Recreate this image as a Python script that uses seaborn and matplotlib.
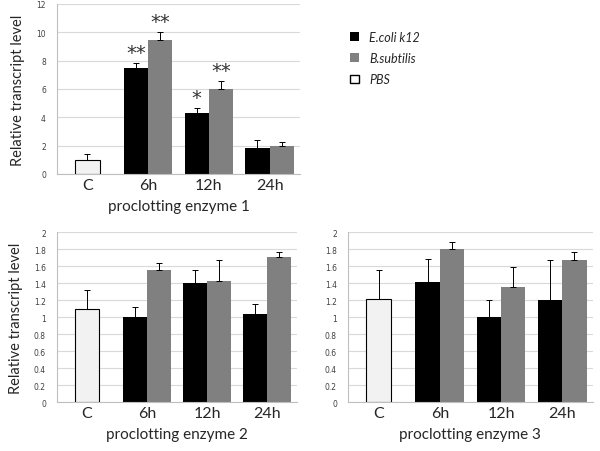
"""
Relative transcript levels of three proclotting enzymes after
bacterial challenge, drawn as grouped bar charts with seaborn.
"""

import pandas as pd
import seaborn as sns
import matplotlib.pyplot as plt
from matplotlib.patches import Patch
from matplotlib.ticker import FuncFormatter


times = ['C', '6h', '12h', '24h']
treated_times = ['6h', '12h', '24h']
strains = ['E.coli k12', 'B.subtilis']

# proclotting enzyme 1
e1_ecoli = [7.45, 4.3, 1.8]
e1_ecoli_err = [0.38, 0.35, 0.6]
e1_bsub = [9.45, 6.0, 1.97]
e1_bsub_err = [0.6, 0.55, 0.25]
e1_pbs = 1.0
e1_pbs_err = 0.4
e1_ecoli_stars = ['**', '*', '']
e1_bsub_stars = ['**', '**', '']

# proclotting enzyme 2
e2_ecoli = [1.0, 1.4, 1.04]
e2_ecoli_err = [0.12, 0.15, 0.12]
e2_bsub = [1.56, 1.43, 1.71]
e2_bsub_err = [0.075, 0.24, 0.06]
e2_pbs = 1.1
e2_pbs_err = 0.22

# proclotting enzyme 3
e3_ecoli = [1.41, 1.0, 1.2]
e3_ecoli_err = [0.28, 0.2, 0.47]
e3_bsub = [1.8, 1.36, 1.67]
e3_bsub_err = [0.09, 0.23, 0.1]
e3_pbs = 1.22
e3_pbs_err = 0.34

COLORS = {'E.coli k12': '#000000', 'B.subtilis': '#808080'}
PBS_COLOR = '#f2f2f2'
FONT = 'Lato'


def make_frame(ecoli, bsub):
    """
    Returns a long dataframe of the treated samples for one enzyme
    """
    rows = []
    for strain, values in zip(strains, [ecoli, bsub]):
        for t, v in zip(treated_times, values):
            rows.append({'Time': t, 'Strain': strain, 'Level': v})
    return pd.DataFrame(rows)


def draw_panel(ax, ecoli, ecoli_err, bsub, bsub_err, pbs, pbs_err,
               ymax, step, title, ylabel=True, stars=None):
    """
    Draws one enzyme panel: the PBS control bar, the two strains side by
    side with upward error bars and optional significance stars.
    """
    control = pd.DataFrame({'Time': ['C'], 'Level': [pbs]})
    sns.barplot(data=control, x='Time', y='Level', order=times,
                color=PBS_COLOR, edgecolor='black', linewidth=0.8,
                width=0.4, saturation=1, ax=ax)
    sns.barplot(data=make_frame(ecoli, bsub), x='Time', y='Level',
                hue='Strain', order=times, hue_order=strains,
                palette=COLORS, saturation=1, linewidth=0, width=0.8,
                ax=ax, legend=False)

    errors = {'PBS': {0: pbs_err},
              strains[0]: dict(zip([1, 2, 3], ecoli_err)),
              strains[1]: dict(zip([1, 2, 3], bsub_err))}
    labels = {strains[0]: stars[0] if stars else ['', '', ''],
              strains[1]: stars[1] if stars else ['', '', '']}
    names = ['PBS'] + strains
    for name, container in zip(names, ax.containers):
        for bar in container:
            h = bar.get_height()
            if pd.isna(h) or h == 0:
                continue
            xc = bar.get_x() + bar.get_width() / 2
            idx = int(round(xc))
            err = errors[name].get(idx, 0)
            ax.errorbar(xc, h, yerr=[[0], [err]], fmt='none',
                        ecolor='black', elinewidth=0.7, capsize=2,
                        capthick=0.7, zorder=3)
            if name != 'PBS':
                star = labels[name][idx - 1]
                if star:
                    ax.text(xc, h + err + ymax * 0.005, star,
                            ha='center', va='bottom', fontsize=14,
                            color='#333333', family='DejaVu Sans')

    ax.set_xlim(-0.5, 3.5)
    ax.set_ylim(0, ymax)
    n = int(round(ymax / step))
    ax.set_yticks([i * step for i in range(n + 1)])
    ax.yaxis.set_major_formatter(FuncFormatter(lambda v, p: '%g' % v))
    ax.yaxis.grid(True, color='#d9d9d9', linewidth=0.8)
    ax.set_axisbelow(True)
    ax.tick_params(axis='y', labelsize=5.5, length=2, color='#bfbfbf',
                   labelcolor='#404040', pad=6)
    ax.tick_params(axis='x', labelsize=11.5, length=0, pad=3)
    for lab in ax.get_xticklabels():
        lab.set_family(FONT)
    for side in ['top', 'right']:
        ax.spines[side].set_visible(False)
    for side in ['left', 'bottom']:
        ax.spines[side].set_color('#bfbfbf')
        ax.spines[side].set_linewidth(0.8)
    ax.set_xlabel(title, fontsize=11, family=FONT, labelpad=5)
    if ylabel:
        ax.set_ylabel('Relative transcript level', fontsize=10.5,
                      family=FONT, labelpad=8)
    else:
        ax.set_ylabel('')


def main():
    sns.set_style('white')
    fig = plt.figure(figsize=(6, 4.52), dpi=100)
    ax1 = fig.add_axes([0.095, 0.613, 0.405, 0.376])
    ax2 = fig.add_axes([0.095, 0.108, 0.400, 0.376])
    ax3 = fig.add_axes([0.580, 0.108, 0.408, 0.376])

    draw_panel(ax1, e1_ecoli, e1_ecoli_err, e1_bsub, e1_bsub_err,
               e1_pbs, e1_pbs_err, 12, 2, 'proclotting enzyme 1',
               stars=[e1_ecoli_stars, e1_bsub_stars])
    draw_panel(ax2, e2_ecoli, e2_ecoli_err, e2_bsub, e2_bsub_err,
               e2_pbs, e2_pbs_err, 2, 0.2, 'proclotting enzyme 2')
    draw_panel(ax3, e3_ecoli, e3_ecoli_err, e3_bsub, e3_bsub_err,
               e3_pbs, e3_pbs_err, 2, 0.2, 'proclotting enzyme 3',
               ylabel=False)

    handles = [Patch(facecolor=COLORS[strains[0]], edgecolor='none'),
               Patch(facecolor=COLORS[strains[1]], edgecolor='none'),
               Patch(facecolor='white', edgecolor='black')]
    fig.legend(handles, strains + ['PBS'], loc='upper left',
               bbox_to_anchor=(0.565, 0.955), frameon=False,
               prop={'family': FONT, 'style': 'italic', 'size': 9},
               handlelength=0.7, handleheight=0.7, labelspacing=0.75,
               handletextpad=0.8)

    fig.savefig('out.png', dpi=100)


if __name__ == '__main__':
    main()
